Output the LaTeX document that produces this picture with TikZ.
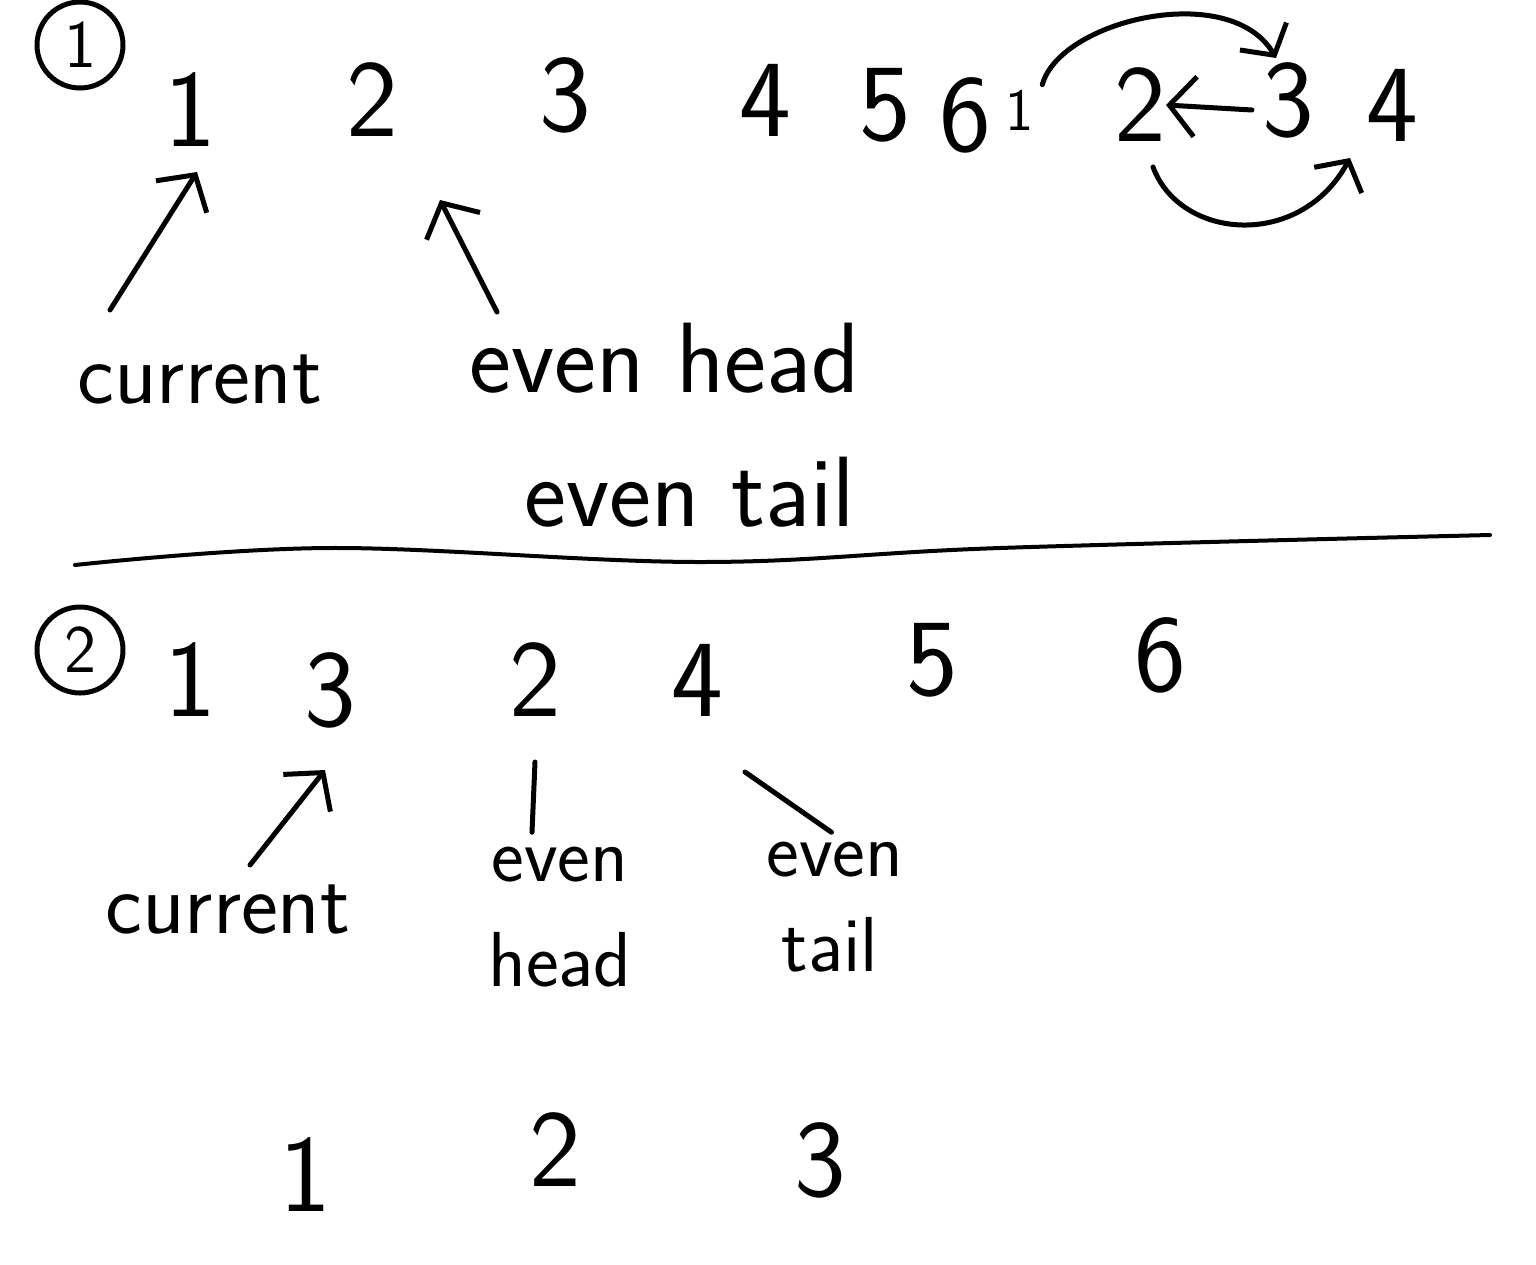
\documentclass[tikz,border=0pt]{standalone}
\usetikzlibrary{arrows.meta}
\begin{document}
\begin{tikzpicture}[x=1pt,y=-1pt,
  ink/.style={line width=5pt,line cap=round,line join=round},
  barb/.style={ink,-{Straight Barb[length=26pt,width=60pt,line width=5pt]}},
  digit/.style={font=\sffamily\fontsize{110}{110}\selectfont,inner sep=0pt},
  word/.style={font=\sffamily\fontsize{88}{88}\selectfont,inner sep=0pt},
  bigword/.style={font=\sffamily\fontsize{100}{100}\selectfont,inner sep=0pt},
  smallword/.style={font=\sffamily\fontsize{78}{78}\selectfont,inner sep=0pt},
  circ/.style={circle,ink,draw,minimum size=86pt,inner sep=0pt,font=\sffamily\fontsize{68}{68}\selectfont}]
\useasboundingbox (0,0) rectangle (1536,1264);
\fill[white] (0,0) rectangle (1536,1264);
% ---- part 1
\node[circ] (c1) at (80,45) {1};
\node[digit] (a1) at (190,110) {1};
\node[digit] (a2) at (372,100) {2};
\node[digit] (a3) at (565,95) {3};
\node[digit] (a4) at (765,100) {4};
\node[digit] (a5) at (885,105) {5};
\node[digit] (a6) at (965,115) {6};
\node[digit,font=\sffamily\fontsize{60}{60}\selectfont] (a7) at (1020,110) {1};
\node[digit] (b2) at (1140,105) {2};
\node[digit] (b3) at (1288,100) {3};
\node[digit] (b4) at (1392,105) {4};
\node[word] (cur1) at (200,380) {current};
\node[bigword] (eh1) at (665,358) {even head};
\node[bigword] (et1) at (690,492) {even tail};
\coordinate (cur1s) at (110,310);
\coordinate (cur1t) at (197,172);
\draw[barb] (cur1s) -- (cur1t);
\coordinate (eh1s) at (497,312);
\coordinate (eh1t) at (440,200);
\draw[barb] (eh1s) -- (eh1t);
% top right swaps
\draw[ink,-{Straight Barb[length=22pt,width=54pt,line width=5pt]}] (a7.north east) ++(8,-5) .. controls (1060,20) and (1230,-20) .. (1276,58);
\draw[barb] (b3.west) ++(-10,10) -- (b2.east);
\draw[ink,-{Straight Barb[length=22pt,width=54pt,line width=5pt]}] (1153,167) .. controls (1180,240) and (1300,250) .. (1350,158);
% divider
\draw[ink,line width=4pt] plot[smooth,tension=0.6] coordinates {(75,565) (330,548) (700,562) (1000,548) (1490,535)};
% ---- part 2
\node[circ] (c2) at (80,650) {2};
\node[digit] (d1) at (190,680) {1};
\node[digit] (d3) at (330,690) {3};
\node[digit] (d2) at (535,680) {2};
\node[digit] (d4) at (697,680) {4};
\node[digit] (d5) at (932,660) {5};
\node[digit] (d6) at (1160,655) {6};
\node[word] (cur2) at (228,910) {current};
\node[smallword] (eh2a) at (560,865) {even};
\node[smallword] (eh2b) at (560,960) {head};
\node[smallword] (et2a) at (835,860) {even};
\node[smallword] (et2b) at (830,945) {tail};
\coordinate (cur2s) at (250,865);
\coordinate (cur2t) at (325,770);
\draw[barb] (cur2s) -- (cur2t);
\coordinate (eh2p) at (535,762);
\draw[ink] (eh2a.north) ++(-28,-15) -- (eh2p);
\coordinate (et2p) at (745,772);
\draw[ink] (et2a.north west) ++(65,-10) -- (et2p);
% ---- part 3
\node[digit] (e1) at (305,1175) {1};
\node[digit] (e2) at (555,1150) {2};
\node[digit] (e3) at (820,1160) {3};
\end{tikzpicture}
\end{document}
